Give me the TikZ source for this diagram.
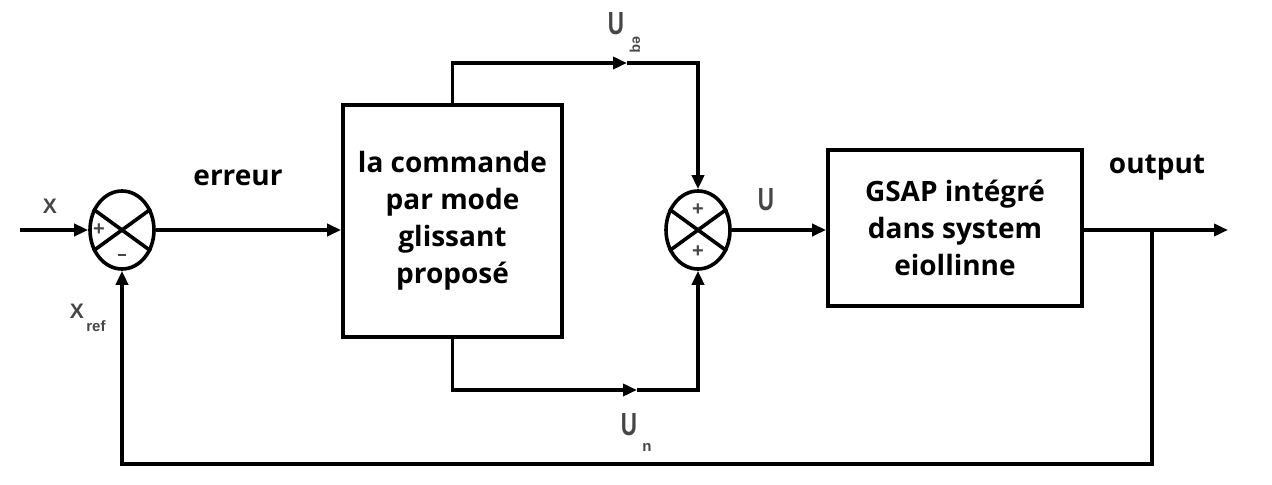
\documentclass[tikz,border=0pt]{standalone}
\usepackage{fontspec}
\setmainfont{Open Sans}
\newfontfamily\lblfont{Liberation Sans}
\usetikzlibrary{arrows.meta,positioning,shapes.geometric}
\definecolor{lblgray}{RGB}{70,70,70}

\begin{document}
\begin{tikzpicture}[x=0.5pt,y=-0.5pt,
  line width=1.8pt, >={Triangle[length=7pt,width=6pt]},
  blk/.style={draw,line width=1.9pt,align=center,inner sep=0pt,
    font=\fontsize{14}{18.5}\selectfont\bfseries},
  sum/.style={draw,ellipse,line width=1.8pt,minimum width=32pt,minimum height=39pt,inner sep=0pt},
  lbl/.style={text=lblgray,inner sep=0pt},
  bold/.style={inner sep=0pt,font=\fontsize{14}{14}\selectfont\bfseries},
  sgn/.style={text=lblgray,inner sep=0pt,font=\lblfont\bfseries\fontsize{10}{10}\selectfont}]
\useasboundingbox (0,0) rectangle (1272,485);
% blocks and summing points
\node[blk,minimum width=109.5pt,minimum height=116pt] (cmd) at (452.5,221)
  {la commande\\par mode\\glissant\\propos\'e};
\node[blk,minimum width=127pt,minimum height=78pt] (gsap) at (955,228)
  {GSAP int\'egr\'e\\dans system\\eiollinne};
\node[sum] (s1) at (122,230) {};
\node[sum] (s2) at (698,230) {};
\foreach \s in {s1,s2} {
  \draw (\s.144) -- (\s.-36);
  \draw (\s.36) -- (\s.-144);
}
\node[sgn] (s1p) at (99,230) {+};
\node[sgn] (s1m) at (122,255) {\rule{4pt}{1.4pt}};
\node[sgn] (s2p) at (698,210) {+};
\node[sgn] (s2q) at (698,252) {+};
% free ends
\coordinate (xin) at (20,230);
\coordinate (yout) at (1228,230);
\coordinate (tap) at (1152,230);
\coordinate (fb) at (1152,464);
\coordinate (ueq) at (627,63);
\coordinate (un) at (637,390);
% connectors
\draw[->] (xin) -- (s1.west);
\draw[->] (s1.east) -- (s1.east -| cmd.west);
\draw[->] (cmd.north) |- (ueq);
\draw[->] (ueq) -| (s2.north);
\draw[->] (cmd.south) |- (un);
\draw[->] (un) -| (s2.south);
\draw[->] (s2.east) -- (s2.east -| gsap.west);
\draw[->] (gsap.east |- yout) -- (yout);
\draw[->] (tap) -- (fb) -| (s1.south);
% labels
\node[lbl,font=\lblfont\fontsize{10.5}{10.5}\selectfont] (xlbl) at (50,206) {\textbf{X}};
\node[lbl,font=\lblfont\fontsize{10.5}{10.5}\selectfont] (xrlbl) at (77,311) {\textbf{X}};
\node[lbl,font=\lblfont\fontsize{7.5}{7.5}\selectfont] (xrsub) at (96,326) {\textbf{ref}};
\node[bold] (errlbl) at (238,178) {erreur};
\node[bold] (outlbl) at (1157,168) {output};
\node[lbl,font=\lblfont\bfseries\fontsize{16}{16}\selectfont] (ulbl) at (766,200) {\scalebox{0.7}[1]{U}};
\node[lbl,font=\lblfont\bfseries\fontsize{16}{16}\selectfont] (ueqlbl) at (616,24) {\scalebox{0.7}[1]{U}};
\node[lbl,font=\lblfont\bfseries\fontsize{7}{7}\selectfont,rotate=-90] (ueqsub) at (635,45) {eq};
\node[lbl,font=\lblfont\bfseries\fontsize{16}{16}\selectfont] (unlbl) at (629,425) {\scalebox{0.7}[1]{U}};
\node[lbl,font=\lblfont\bfseries\fontsize{7.5}{7.5}\selectfont] (unsub) at (647,447) {n};
\end{tikzpicture}
\end{document}
